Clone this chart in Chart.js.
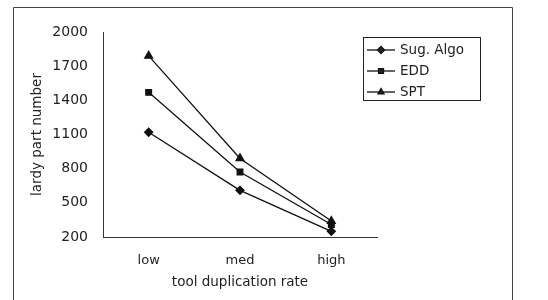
<!DOCTYPE html>
<html>
<head>
<meta charset="utf-8">
<script src="https://cdn.jsdelivr.net/npm/chart.js@4"></script>
<style>
  html, body { margin: 0; padding: 0; background: #fff; }
  #wrap { width: 548px; height: 300px; }
</style>
</head>
<body>
<div id="wrap"><canvas id="myChart" width="548" height="300"></canvas></div>
<script>
const categories = ['low', 'med', 'high'];
const seriesNames = ['Sug. Algo', 'EDD', 'SPT'];
const sugAlgo = [1120, 610, 250];
const edd = [1470, 770, 310];
const spt = [1790, 890, 340];
const yTicks = [200, 500, 800, 1100, 1400, 1700, 2000];

const markers = ['rectRot', 'rect', 'triangle'];
const fam = '"DejaVu Sans", Arial, sans-serif';
const font = { family: fam, size: 13 };
const titleFont = { family: fam, size: 13.5 };

// outer frame + boxed legend, drawn on the canvas
const frameLegend = {
    id: 'frameLegend',
    afterDraw(chart) {
        const c = chart.ctx;
        c.save();
        c.strokeStyle = '#444';
        c.lineWidth = 1;
        c.beginPath();
        c.moveTo(13.5, 300);
        c.lineTo(13.5, 7.5);
        c.lineTo(512.5, 7.5);
        c.lineTo(512.5, 300);
        c.stroke();

        c.strokeStyle = '#222';
        c.strokeRect(363.5, 37.5, 117, 63);
        c.font = '13.5px ' + fam;
        c.fillStyle = '#222';
        c.textBaseline = 'middle';
        chart.data.datasets.forEach((ds, i) => {
            const y = 50 + i * 21;
            c.beginPath();
            c.moveTo(367, y);
            c.lineTo(395, y);
            c.strokeStyle = '#111';
            c.lineWidth = 1.3;
            c.stroke();
            Chart.helpers.drawPoint(c, {
                pointStyle: ds.pointStyle,
                radius: 3.5,
                rotation: 0,
                borderWidth: 1
            }, 381, y);
            c.fillText(ds.label, 400, y);
        });
        c.restore();
    }
};

const datasets = [sugAlgo, edd, spt].map((vals, i) => ({
    label: seriesNames[i],
    data: vals,
    borderColor: '#111',
    backgroundColor: '#111',
    borderWidth: 1.3,
    pointStyle: markers[i],
    pointRadius: i === 2 ? 4.5 : 4,
    pointBackgroundColor: '#111',
    pointBorderColor: '#111',
    tension: 0
}));

const ctx = document.getElementById('myChart').getContext('2d');
new Chart(ctx, {
    type: 'line',
    data: { labels: categories, datasets: datasets },
    options: {
        responsive: false,
        animation: false,
        layout: { padding: { left: 25, right: 171, top: 32, bottom: 0 } },
        plugins: {
            legend: { display: false },
            tooltip: { enabled: false }
        },
        scales: {
            x: {
                offset: true,
                afterFit: scale => { scale.height = 63; },
                grid: { display: false, drawTicks: false },
                border: { display: true, color: '#333', width: 1 },
                ticks: { color: '#222', font: font, padding: 16 },
                title: {
                    display: true,
                    text: 'tool duplication rate',
                    color: '#222',
                    font: titleFont,
                    padding: { top: 4, bottom: 9 }
                }
            },
            y: {
                min: 200,
                max: 2000,
                afterBuildTicks: scale => {
                    scale.ticks = yTicks.map(v => ({ value: v }));
                },
                afterFit: scale => { scale.width = 78; },
                grid: { display: false, drawTicks: false },
                border: { display: true, color: '#333', width: 1 },
                ticks: {
                    color: '#222',
                    font: { family: fam, size: 14 },
                    padding: 15,
                    callback: v => String(v)
                },
                title: {
                    display: true,
                    text: 'lardy part number',
                    color: '#222',
                    font: titleFont,
                    padding: { top: 4, bottom: 4 }
                }
            }
        }
    },
    plugins: [frameLegend]
});
</script>
</body>
</html>
